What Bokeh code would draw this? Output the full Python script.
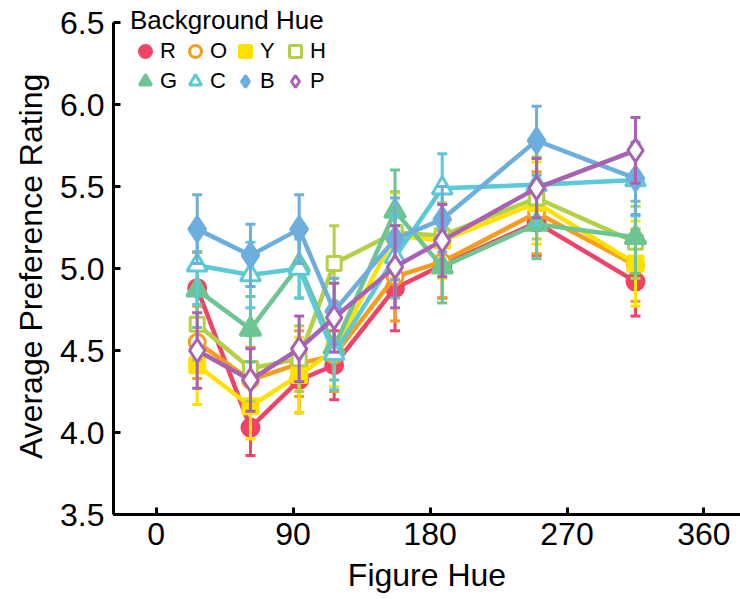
from bokeh.plotting import figure
from bokeh.models import (ColumnDataSource, Range1d, FixedTicker, PrintfTickFormatter,
                          Legend, LegendItem)
from bokeh.embed import file_html
from bokeh.resources import INLINE

# ---- data -------------------------------------------------------------
figure_hue = [27, 62, 94, 117, 157, 188, 250, 315]
series = ["R", "O", "Y", "H", "G", "C", "B", "P"]

R_mean = [4.88, 4.03, 4.32, 4.41, 4.88, 5.02, 5.28, 4.92]
O_mean = [4.55, 4.32, 4.42, 4.47, 4.95, 5.04, 5.34, 5.02]
Y_mean = [4.41, 4.16, 4.35, 4.50, 5.20, 5.17, 5.40, 5.03]
H_mean = [4.66, 4.39, 4.45, 5.03, 5.22, 5.20, 5.43, 5.16]
G_mean = [4.87, 4.63, 5.02, 4.52, 5.35, 5.01, 5.27, 5.19]
C_mean = [5.02, 4.96, 5.00, 4.48, 5.07, 5.49, 5.51, 5.54]
B_mean = [5.24, 5.08, 5.24, 4.74, 5.18, 5.30, 5.78, 5.55]
P_mean = [4.50, 4.32, 4.51, 4.70, 5.01, 5.17, 5.49, 5.72]

R_err = [0.22, 0.17, 0.20, 0.21, 0.26, 0.20, 0.20, 0.21]
O_err = [0.22, 0.20, 0.20, 0.22, 0.27, 0.22, 0.25, 0.22]
Y_err = [0.24, 0.20, 0.23, 0.22, 0.26, 0.23, 0.25, 0.26]
H_err = [0.22, 0.20, 0.20, 0.23, 0.25, 0.20, 0.25, 0.22]
G_err = [0.23, 0.20, 0.20, 0.20, 0.25, 0.22, 0.21, 0.22]
C_err = [0.24, 0.20, 0.18, 0.22, 0.25, 0.21, 0.25, 0.22]
B_err = [0.21, 0.19, 0.21, 0.20, 0.25, 0.20, 0.21, 0.22]
P_err = [0.23, 0.19, 0.20, 0.21, 0.25, 0.22, 0.18, 0.20]

means = dict(R=R_mean, O=O_mean, Y=Y_mean, H=H_mean, G=G_mean, C=C_mean, B=B_mean, P=P_mean)
errs = dict(R=R_err, O=O_err, Y=Y_err, H=H_err, G=G_err, C=C_err, B=B_err, P=P_err)

colors = dict(R="#EE4468", O="#F79D1E", Y="#FFE100", H="#B4D047",
              G="#6DC594", C="#5CCAD6", B="#6DAEDE", P="#A862B2")
markers = dict(R="circle", O="circle", Y="square", H="square",
               G="triangle", C="triangle", B="diamond", P="diamond")
sizes = dict(R=17, O=16, Y=15, H=14, G=21, C=20, B=25, P=23)
filled = dict(R=True, O=False, Y=True, H=False, G=True, C=False, B=True, P=False)

x_ticks = [0, 90, 180, 270, 360]
y_ticks = [3.5, 4.0, 4.5, 5.0, 5.5, 6.0, 6.5]
y_axis_bounds = (3.5, 6.5)

FONT = "Liberation Sans"

# frame reaches to the top of the canvas so the legend title is not clipped;
# the y axis line itself is bounded to 3.5 .. 6.5
p = figure(width=740, height=599, output_backend="svg", toolbar_location=None,
           x_range=Range1d(-28, 384), y_range=Range1d(3.5, 3.5 + 514 / 164),
           min_border_left=113, min_border_right=0, min_border_top=0,
           min_border_bottom=85)
p.xgrid.visible = False
p.ygrid.visible = False
p.outline_line_color = None

legend_items = []
for s in series:
    c = colors[s]
    m = means[s]
    e = errs[s]
    src = ColumnDataSource(dict(x=figure_hue, y=m,
                                lo=[a - b for a, b in zip(m, e)],
                                hi=[a + b for a, b in zip(m, e)]))
    p.segment(x0="x", y0="lo", x1="x", y1="hi", source=src, line_color=c, line_width=3)
    p.scatter(x="x", y="lo", source=src, marker="dash", size=10, line_color=c, line_width=3)
    p.scatter(x="x", y="hi", source=src, marker="dash", size=10, line_color=c, line_width=3)
    p.line(x="x", y="y", source=src, line_color=c, line_width=4.5)
    r = p.scatter(x="x", y="y", source=src, marker=markers[s], size=sizes[s],
                  line_color=c, line_width=3,
                  fill_color=c if filled[s] else "white")
    legend_items.append(LegendItem(label=s, renderers=[r]))

legend = Legend(items=legend_items, orientation="horizontal", ncols=4,
                title="Background Hue", location=(17, 418))
legend.title_text_font = FONT
legend.title_text_font_size = "26px"
legend.title_text_font_style = "normal"
legend.title_text_color = "black"
legend.title_standoff = 0
legend.label_text_font = FONT
legend.label_text_font_size = "22px"
legend.label_text_color = "black"
legend.glyph_width = 30
legend.glyph_height = 30
legend.label_height = 20
legend.label_standoff = 0
legend.spacing = 0
legend.padding = 0
legend.margin = 0
legend.border_line_alpha = 0
legend.background_fill_alpha = 0
p.add_layout(legend, "center")

for ax in (p.xaxis[0], p.yaxis[0]):
    ax.axis_line_width = 3
    ax.major_tick_line_width = 3
    ax.major_tick_in = 7
    ax.major_tick_out = 0
    ax.minor_tick_line_color = None
    ax.major_label_text_font = FONT
    ax.major_label_text_font_size = "32px"
    ax.axis_label_text_font = FONT
    ax.axis_label_text_font_size = "32px"
    ax.axis_label_text_font_style = "normal"
    ax.axis_label_text_color = "black"
    ax.major_label_text_color = "black"

p.yaxis.bounds = y_axis_bounds
p.xaxis.ticker = FixedTicker(ticks=x_ticks)
p.yaxis.ticker = FixedTicker(ticks=y_ticks)
p.yaxis.formatter = PrintfTickFormatter(format="%.1f")
p.xaxis.axis_label = "Figure Hue"
# two trailing no-break spaces re-centre the label on the 3.5..6.5 axis span
p.yaxis.axis_label = "Average Preference Rating\u00a0\u00a0"
p.xaxis.major_label_standoff = 8
p.yaxis.major_label_standoff = 9
p.xaxis.axis_label_standoff = 9
p.yaxis.axis_label_standoff = 8

open("out.html", "w").write(file_html(p, INLINE))
